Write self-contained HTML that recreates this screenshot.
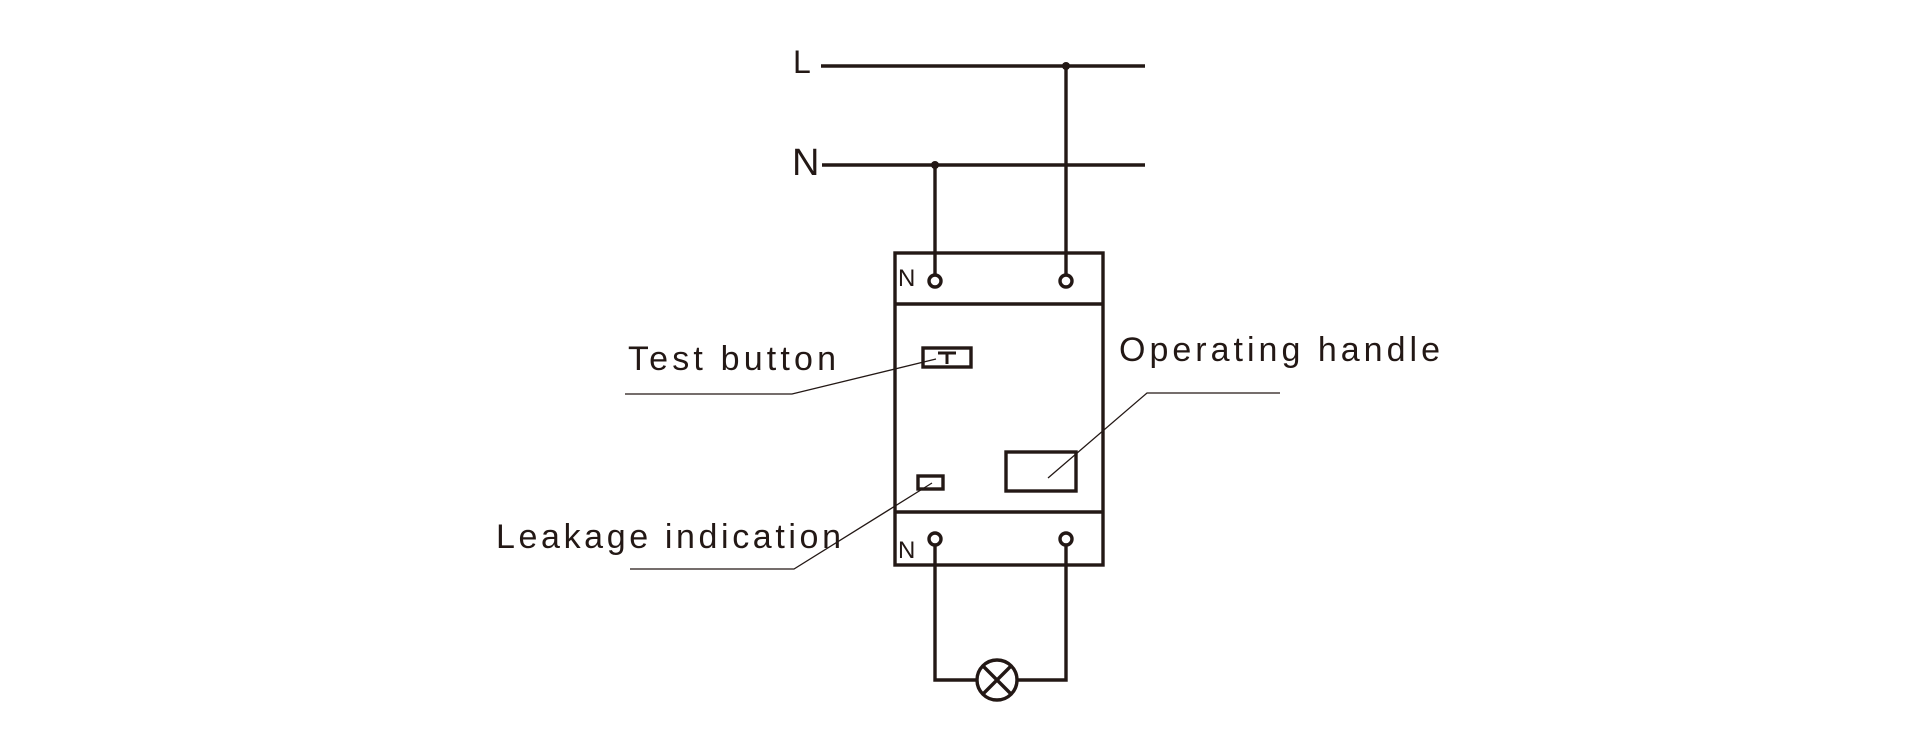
<!DOCTYPE html>
<html><head><style>html,body{margin:0;padding:0;background:#fff;}svg{display:block}</style></head>
<body>
<svg width="1930" height="750" viewBox="0 0 1930 750" xmlns="http://www.w3.org/2000/svg">
<g stroke="#231815" stroke-width="3.4" fill="none">
<line x1="821" y1="66" x2="1145" y2="66"/>
<line x1="822" y1="165" x2="1145" y2="165"/>
<line x1="1066" y1="66" x2="1066" y2="275"/>
<line x1="935" y1="165" x2="935" y2="275"/>
<rect x="895" y="253" width="208" height="312"/>
<line x1="895" y1="304" x2="1103" y2="304"/>
<line x1="895" y1="512" x2="1103" y2="512"/>
<circle cx="935" cy="281" r="6" fill="#fff"/>
<circle cx="1066" cy="281" r="6" fill="#fff"/>
<circle cx="935" cy="539" r="6" fill="#fff"/>
<circle cx="1066" cy="539" r="6" fill="#fff"/>
<polyline points="935,545 935,680 977,680"/>
<polyline points="1066,545 1066,680 1017,680"/>
<circle cx="997" cy="680" r="20"/>
<line x1="983" y1="666" x2="1011" y2="694"/>
<line x1="1011" y1="666" x2="983" y2="694"/>
<rect x="923" y="348" width="48" height="19"/>
<rect x="918" y="476" width="25" height="13"/>
<rect x="1006" y="452" width="70" height="39"/>
</g>
<circle cx="1066" cy="66" r="4" fill="#231815"/>
<circle cx="935" cy="165" r="4" fill="#231815"/>
<g stroke="#231815" stroke-width="3" fill="none"><line x1="938" y1="353" x2="956" y2="353"/><line x1="947" y1="353" x2="947" y2="364"/></g>
<g stroke="#231815" stroke-width="1.3" fill="none">
<polyline points="625,394 792,394 936,359"/>
<polyline points="1280,393 1147,393 1048,478"/>
<polyline points="630,569 794,569 932,483"/>
</g>
<g font-family="'Liberation Sans', sans-serif" fill="#231815">
<text x="793" y="73" font-size="32">L</text>
<text x="792" y="175" font-size="38">N</text>
<text x="898" y="286" font-size="24">N</text>
<text x="898" y="558" font-size="24">N</text>
<text x="628" y="370" font-size="34" textLength="208" lengthAdjust="spacing">Test button</text>
<text x="1119" y="361" font-size="34" textLength="321" lengthAdjust="spacing">Operating handle</text>
<text x="496" y="548" font-size="34" textLength="345" lengthAdjust="spacing">Leakage indication</text>
</g>
</svg>
</body></html>
